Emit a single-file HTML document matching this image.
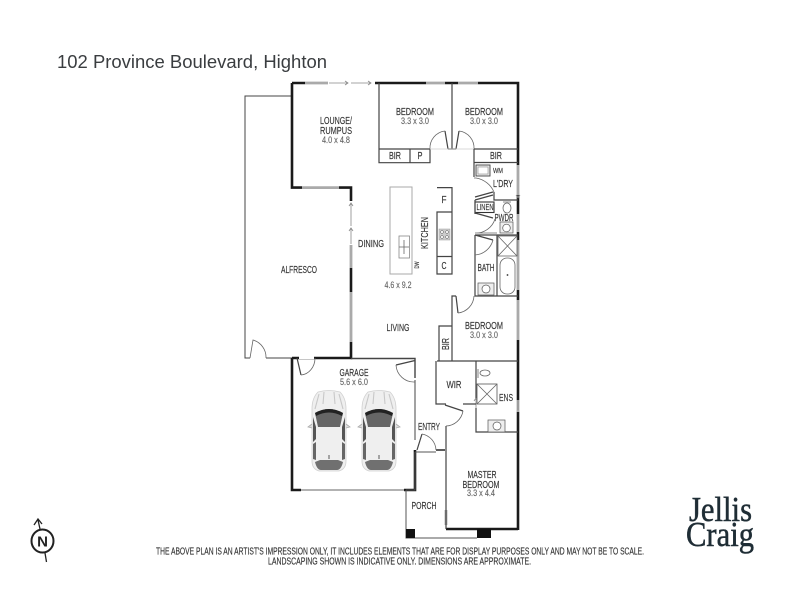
<!DOCTYPE html>
<html><head><meta charset="utf-8">
<style>
html,body{margin:0;padding:0;background:#fff;width:800px;height:600px;overflow:hidden}
svg{display:block}
.t{font-family:"Liberation Sans",sans-serif;fill:#333;stroke:#333;stroke-width:.15;font-size:10.5px;text-anchor:middle}
.d{fill:#666;stroke:#666;font-size:9.5px}
.th{fill:none;stroke:#1a1a1a;stroke-width:2.6}
.m{fill:none;stroke:#444;stroke-width:1.2}
.n{fill:none;stroke:#666;stroke-width:.8}
.w{fill:none;stroke:#aaa;stroke-width:2.8}
.a{fill:none;stroke:#888;stroke-width:.8}
</style></head><body>
<svg width="800" height="600" viewBox="0 0 800 600" xmlns="http://www.w3.org/2000/svg">
<defs>
<g id="car">
<path d="M-11 -39 Q0 -42 11 -39 Q17 -33 17 -22 L17 30 Q17 38 10 40 L-10 40 Q-17 38 -17 30 L-17 -22 Q-17 -33 -11 -39Z" fill="#efefef" stroke="#d0d0d0" stroke-width=".8"/>
<path d="M-14 -18 Q0 -26 14 -18 L11 -4 L-11 -4Z" fill="#666"/>
<path d="M-14 -18 Q0 -26 14 -18 L13 -15 Q0 -22 -13 -15Z" fill="#222"/>
<path d="M-16 -14 L-13 -4 L-13 8 L-16 11Z M16 -14 L13 -4 L13 8 L16 11Z" fill="#555"/>
<path d="M-16 13 L-13 11 L-13 29 L-16 28Z M16 13 L13 11 L13 29 L16 28Z" fill="#666"/>
<path d="M-14 31 L-9 29 L9 29 L14 31 Q12 39 8 39 L-8 39 Q-12 39 -14 31Z" fill="#707070"/>
<path d="M-10 -37 L-14 -22 M10 -37 L14 -22 M-5 -39 L-6 -27 M5 -39 L6 -27" stroke="#c8c8c8" stroke-width="1.1" fill="none"/>
<path d="M-17 -7 L-21 -4 L-17 -3 M17 -7 L21 -4 L17 -3" stroke="#aaa" stroke-width=".8" fill="#ddd"/>
<path d="M0 24 V28" stroke="#333" stroke-width=".8"/>
</g>
</defs>

<text x="57" y="68" textLength="270" lengthAdjust="spacingAndGlyphs" style="font-family:'Liberation Sans',sans-serif;font-size:18.5px;fill:#3a3d40">102 Province Boulevard, Highton</text>

<!-- alfresco outline -->
<path class="n" style="stroke:#444;stroke-width:1" d="M292 96 H245 V358 H250 M266 358 H292"/>
<path class="n" d="M250 358 L253 340 A18 18 0 0 1 266 358"/>

<!-- windows -->
<path class="w" d="M305 83 H328 M426 83 H445 M458 83 H478 M302 187.600 H339 M351 245 V268 M351 292 V342 M518 165 V195 M518 214 V232 M518 240 V290 M518 300 V340 M518 400 V412 M446 510 V525"/>
<path d="M301 490 H404" fill="none" stroke="#999" stroke-width="1.600"/>

<!-- thick walls -->
<path class="th" d="M292 83 V187.600 H302 M292 83 H305"/>
<path class="th" d="M375 83 H426 M445 83 H458 M478 83 H518 V165 M518 195 V214 M518 232 V240 M518 290 V300 M518 340 V400 M518 412 V530"/>
<path class="th" d="M339 187.600 H351 V201"/>
<path class="th" d="M351 268 V292 M351 342 V358 H292 M292 358 V490 H301"/>
<path class="th" d="M404 490 H415 V450"/>
<path class="th" d="M446 529 H518"/>

<!-- sliding arrows -->
<path class="a" d="M329 83 H348 M345 81 L348 83 L345 85 M351 83 H371 M368 81 L371 83 L368 85 M351 203 V226 M349 206 L351 203 L353 206 M351 228 V244 M349 231 L351 228 L353 231"/>
<path class="a" d="M518 195 V197 M516 195 L518 198 L520 195"/>
<path class="a" d="M518 400 V410 M476 408 V398 M474 401 L476 398 L478 401"/>

<!-- bedrooms top -->
<path class="m" d="M379 83 V162.700 H430 V149 M379 149 H430 M410 149 V162.700"/>
<path class="m" d="M452 83 V149"/>
<path class="m" d="M448 149 L445 131 M456 149 L459 131 M448 149 H456"/>
<path class="n" d="M430 149 A17 17 0 0 1 445 131 M474 149 A17 17 0 0 0 459 131"/>
<path class="n" style="stroke:#ccc" d="M430 149 H474"/>
<path class="m" d="M474 149 H518 M474 149 V177 M474 162.500 H518"/>

<!-- laundry -->
<rect x="476" y="165" width="14" height="11" fill="#e8e8e8" stroke="#444" stroke-width=".9"/>
<rect x="478" y="167" width="10" height="7" fill="#fff" stroke="#777" stroke-width=".5"/>
<path class="n" d="M474 178 H476 A24 24 0 0 1 494 192"/>
<path class="m" d="M494 192 V200 H518 M475 197 L493 192 M475 200 L493 195"/>
<rect x="475" y="202" width="19" height="10.500" fill="#fff" stroke="#333" stroke-width="1.100"/>
<path class="m" d="M475 200 V214 M475 213 L493 218"/>
<path class="n" d="M495 219 A20 20 0 0 1 475 233 H497"/>
<path class="n" d="M503 202 h8 M503 208 a4 5 0 0 0 8 0 a4 5 0 0 0 -8 0"/>
<rect x="500" y="222" width="13" height="11" fill="#eee" stroke="#555" stroke-width=".7"/>
<circle cx="506.500" cy="228" r="3.800" fill="#fff" stroke="#555" stroke-width=".7"/>

<!-- bath -->
<path class="m" d="M475 235 H518 M475 235 V296 H518 M475 235 L493 240 M497 235 V296"/>
<path class="n" d="M493 240 A20 20 0 0 1 475 255"/>
<rect x="498" y="236" width="19" height="20" fill="#fff" stroke="#666" stroke-width=".8"/>
<path class="n" d="M498 236 L517 256 M517 236 L498 256"/>
<rect x="500" y="258" width="15" height="36" rx="7" fill="#fff" stroke="#666" stroke-width=".8"/>
<circle cx="507.500" cy="275" r=".9" fill="#333"/>
<rect x="478" y="283" width="16" height="12" fill="#eee" stroke="#555" stroke-width=".7"/>
<circle cx="486" cy="289" r="4" fill="#fff" stroke="#555" stroke-width=".7"/>

<!-- bedroom 3 -->
<path class="m" d="M452 326 V296 H456 M439 361 V326 H452 V361 M437 361 H518"/>
<path class="m" d="M456 296 L458 313"/>
<path class="n" d="M458 313 A18 18 0 0 0 474 296"/>

<!-- WIR / ENS -->
<path class="m" d="M436 361 V404 H446 M463 404 H476 M476 361 V398 M476 408 V432 H518"/>
<path class="m" d="M445 405 L463 411"/>
<path class="n" d="M463 411 A18 18 0 0 1 446 426"/>
<path class="n" d="M478 369 V378 M480 373 a5 3 0 0 1 10 0 a5 3 0 0 1 -10 0"/>
<rect x="477" y="384" width="20" height="20" fill="#fff" stroke="#555" stroke-width=".8"/>
<path class="n" d="M477 384 L497 404 M497 384 L477 404"/>
<rect x="488" y="420" width="17" height="12" fill="#eee" stroke="#555" stroke-width=".7"/>
<circle cx="497" cy="426" r="4" fill="#fff" stroke="#555" stroke-width=".7"/>

<!-- master -->
<path class="m" d="M446 426 V529"/>
<path class="n" d="M436 450 H445" style="stroke-width:1.600;stroke:#333"/>

<!-- porch -->
<path class="n" style="stroke:#555;stroke-width:1" d="M406 490 V538 H477"/>
<rect x="406" y="529" width="9" height="9" fill="#111"/>
<rect x="477" y="529" width="14" height="9" fill="#111"/>
<path class="n" style="stroke:#555;stroke-width:1" d="M415 452 V490 H406 M415 452 H436"/>

<!-- entry door -->
<path class="m" d="M422 434 L417 450"/>
<path class="n" d="M422 434 A17 17 0 0 1 436 450"/>
<path class="n" d="M415 380 V440" style="stroke:#444;stroke-width:1"/>

<!-- garage top -->
<path class="m" d="M351 358.500 H415 V378 M396 365 L415 360.500" style="stroke-width:1.400"/>
<path class="n" d="M396 365 A18 18 0 0 0 415 382"/>
<path class="m" d="M297 358 L301 375"/>
<path class="n" d="M301 375 A15 17 0 0 0 315 358"/>
<path d="M299 357.500 H314" stroke="#fff" stroke-width="3"/>

<!-- kitchen -->
<rect x="390" y="187" width="22" height="87" fill="#fff" stroke="#aaa" stroke-width="1"/>
<rect x="399" y="236" width="10.500" height="22" fill="#fff" stroke="#888" stroke-width=".8"/>
<path class="n" d="M399 247 H409 M404 240 V254"/>
<path class="m" d="M437 187.600 H452 V274 H437 V212 H452 M437 256.500 H452"/>
<rect x="439" y="229" width="11" height="11" fill="#ccc" stroke="#999" stroke-width=".5"/>
<circle cx="442" cy="232" r="1.400" fill="#fff" stroke="#555" stroke-width=".5"/><circle cx="447" cy="232" r="1.400" fill="#fff" stroke="#555" stroke-width=".5"/>
<circle cx="442" cy="237" r="1.400" fill="#fff" stroke="#555" stroke-width=".5"/><circle cx="447" cy="237" r="1.400" fill="#fff" stroke="#555" stroke-width=".5"/>

<!-- cars -->
<use href="#car" x="329" y="431"/>
<use href="#car" x="379" y="431"/>

<!-- labels -->
<g class="t">
<text x="415" y="115" textLength="38" lengthAdjust="spacingAndGlyphs">BEDROOM</text>
<text x="415" y="124" textLength="28" lengthAdjust="spacingAndGlyphs" class="d">3.3 x 3.0</text>
<text x="484" y="115" textLength="38" lengthAdjust="spacingAndGlyphs">BEDROOM</text>
<text x="484" y="124" textLength="28" lengthAdjust="spacingAndGlyphs" class="d">3.0 x 3.0</text>
<text x="336" y="124" textLength="32" lengthAdjust="spacingAndGlyphs">LOUNGE/</text>
<text x="336" y="134" textLength="32" lengthAdjust="spacingAndGlyphs">RUMPUS</text>
<text x="336" y="143" textLength="28" lengthAdjust="spacingAndGlyphs" class="d">4.0 x 4.8</text>
<text x="395" y="159" textLength="12" lengthAdjust="spacingAndGlyphs">BIR</text>
<text x="420" y="159" textLength="5" lengthAdjust="spacingAndGlyphs">P</text>
<text x="496" y="159" textLength="12" lengthAdjust="spacingAndGlyphs">BIR</text>
<text x="498" y="173" textLength="10" lengthAdjust="spacingAndGlyphs" style="font-size:7px">WM</text>
<text x="503" y="187" textLength="20" lengthAdjust="spacingAndGlyphs">L'DRY</text>
<text x="485" y="210" textLength="17" lengthAdjust="spacingAndGlyphs" style="font-size:8.500px">LINEN</text>
<text x="504" y="221" textLength="19" lengthAdjust="spacingAndGlyphs" style="font-size:10px">PWDR</text>
<text x="486" y="271" textLength="17" lengthAdjust="spacingAndGlyphs">BATH</text>
<text x="444" y="203" textLength="5" lengthAdjust="spacingAndGlyphs">F</text>
<text x="444" y="269" textLength="5" lengthAdjust="spacingAndGlyphs">C</text>
<text transform="translate(428 233) rotate(-90)" textLength="32" lengthAdjust="spacingAndGlyphs">KITCHEN</text>
<text transform="translate(419 265) rotate(-90)" textLength="7" lengthAdjust="spacingAndGlyphs" style="font-size:6px">DW</text>
<text x="371" y="247" textLength="26" lengthAdjust="spacingAndGlyphs">DINING</text>
<text x="398" y="288" textLength="27" lengthAdjust="spacingAndGlyphs" class="d">4.6 x 9.2</text>
<text x="299" y="273" textLength="36" lengthAdjust="spacingAndGlyphs">ALFRESCO</text>
<text x="398" y="331" textLength="23" lengthAdjust="spacingAndGlyphs">LIVING</text>
<text x="484" y="329" textLength="38" lengthAdjust="spacingAndGlyphs">BEDROOM</text>
<text x="484" y="338" textLength="28" lengthAdjust="spacingAndGlyphs" class="d">3.0 x 3.0</text>
<text transform="translate(449 344) rotate(-90)" textLength="12" lengthAdjust="spacingAndGlyphs">BIR</text>
<text x="354" y="376" textLength="29" lengthAdjust="spacingAndGlyphs">GARAGE</text>
<text x="354" y="385" textLength="28" lengthAdjust="spacingAndGlyphs" class="d">5.6 x 6.0</text>
<text x="454" y="388" textLength="15" lengthAdjust="spacingAndGlyphs">WIR</text>
<text x="506" y="401" textLength="14" lengthAdjust="spacingAndGlyphs">ENS</text>
<text x="429" y="430" textLength="22" lengthAdjust="spacingAndGlyphs">ENTRY</text>
<text x="482" y="478" textLength="29" lengthAdjust="spacingAndGlyphs">MASTER</text>
<text x="481" y="488" textLength="37" lengthAdjust="spacingAndGlyphs">BEDROOM</text>
<text x="481" y="496" textLength="28" lengthAdjust="spacingAndGlyphs" class="d">3.3 x 4.4</text>
<text x="424" y="509" textLength="25" lengthAdjust="spacingAndGlyphs">PORCH</text>
</g>

<!-- north -->
<g fill="none" stroke="#222">
<ellipse cx="42.500" cy="541" rx="11" ry="11.500" stroke-width="2"/>
<path d="M40 529 L38 520 M34 525 L38 519 L42 524 M45 553 L46.500 562" stroke-width="1.300"/>
</g>
<text x="42.500" y="546.500" text-anchor="middle" style="font-family:'Liberation Sans',sans-serif;font-weight:bold;font-size:15px;fill:#222">N</text>

<!-- disclaimer -->
<g style="font-family:'Liberation Sans',sans-serif;font-size:10px;fill:#333;stroke:#333;stroke-width:.15">
<text x="156" y="554.500" textLength="488" lengthAdjust="spacingAndGlyphs">THE ABOVE PLAN IS AN ARTIST'S IMPRESSION ONLY, IT INCLUDES ELEMENTS THAT ARE FOR DISPLAY PURPOSES ONLY AND MAY NOT BE TO SCALE.</text>
<text x="268" y="564.500" textLength="263" lengthAdjust="spacingAndGlyphs">LANDSCAPING SHOWN IS INDICATIVE ONLY. DIMENSIONS ARE APPROXIMATE.</text>
</g>

<!-- logo -->
<g style="font-family:'Liberation Serif',serif;font-size:35px;fill:#1f2d35;stroke:#1f2d35;stroke-width:.5">
<text x="689" y="521" textLength="63" lengthAdjust="spacingAndGlyphs">Jellis</text>
<text x="686" y="546" textLength="68" lengthAdjust="spacingAndGlyphs">Craig</text>
</g>
</svg>
</body></html>
